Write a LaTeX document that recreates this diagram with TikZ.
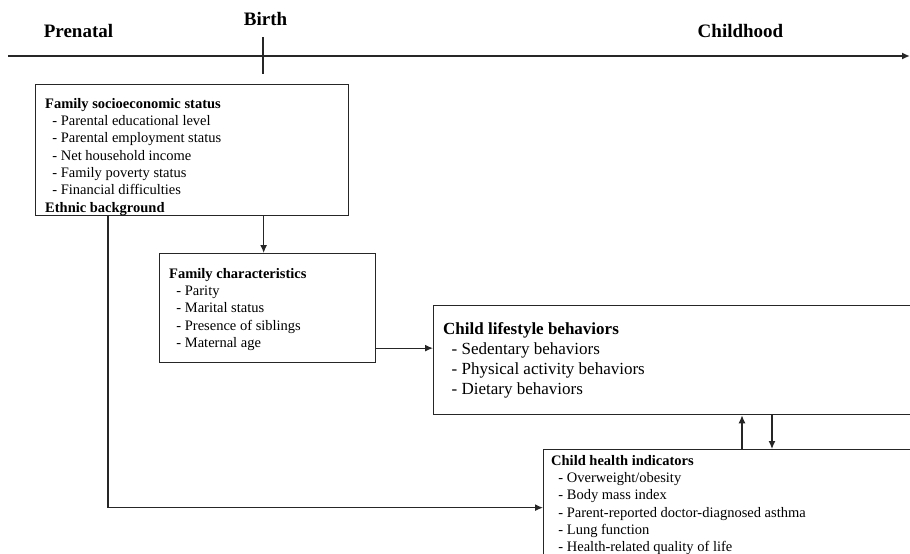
\documentclass[tikz,border=0pt]{standalone}
\usepackage{fontspec}
\setmainfont{Liberation Serif}
\usetikzlibrary{positioning,arrows.meta}
\newcommand{\itm}[1]{\hspace*{0.5em}- #1}

\begin{document}
\begin{tikzpicture}[x=1pt, y=-1pt,
  box/.style={draw=black!85, line width=1.3pt, inner sep=0pt, anchor=north west},
  txt/.style={align=left, inner sep=0pt, anchor=north west,
              font=\fontsize{14.5}{17.3}\selectfont},
  bigtxt/.style={txt, font=\fontsize{17}{20}\selectfont},
  era/.style={font=\fontsize{19}{22}\selectfont\bfseries, inner sep=0pt},
  arr/.style={-{Latex[length=8pt,width=7pt]}, draw=black!85, line width=1.3pt}]
\useasboundingbox (0,0) rectangle (910,554);
\clip (0,0) rectangle (910,554);
% time axis
\coordinate (t0) at (8,56);
\coordinate (t1) at (910,56);
\draw[arr, line width=1.6pt] (t0) -- (t1);
\coordinate (b0) at (263,37);
\coordinate (b1) at (263,74);
\draw[draw=black!85, line width=1.3pt] (b0) -- (b1);
\node[era] (pre) at (78.5,31.5) {Prenatal};
\node[era] (birth) at (265.5,19.5) {Birth};
\node[era] (child) at (740.5,31.5) {Childhood};
% boxes
\node[box, minimum width=313pt, minimum height=131pt] (ses) at (35,84) {};
\node[txt] (ses-t) at ([shift={(10pt,-14pt)}]ses.north west)
  {\textbf{Family socioeconomic status}\\ \itm{Parental educational level}\\
   \itm{Parental employment status}\\ \itm{Net household income}\\
   \itm{Family poverty status}\\ \itm{Financial difficulties}\\
   \textbf{Ethnic background}};
\node[box, minimum width=216pt, minimum height=109pt] (fam) at (159,253) {};
\node[txt] (fam-t) at ([shift={(10pt,-15pt)}]fam.north west)
  {\textbf{Family characteristics}\\ \itm{Parity}\\ \itm{Marital status}\\
   \itm{Presence of siblings}\\ \itm{Maternal age}};
\node[box, minimum width=520pt, minimum height=109pt] (life) at (433,305) {};
\node[bigtxt] (life-t) at ([shift={(10pt,-17pt)}]life.north west)
  {\textbf{Child lifestyle behaviors}\\ \itm{Sedentary behaviors}\\
   \itm{Physical activity behaviors}\\ \itm{Dietary behaviors}};
\node[box, minimum width=420pt, minimum height=116pt] (health) at (543,449) {};
\node[txt] (health-t) at ([shift={(8pt,-6pt)}]health.north west)
  {\textbf{Child health indicators}\\ \itm{Overweight/obesity}\\ \itm{Body mass index}\\
   \itm{Parent-reported doctor-diagnosed asthma}\\ \itm{Lung function}\\
   \itm{Health-related quality of life}};
% links
\draw[arr] ([xshift=-4pt]fam.north |- ses.south) -- ([xshift=-4pt]fam.north);
\draw[arr] ([yshift=-40pt]fam.east) -- ([yshift=-40pt]fam.east -| life.west);
\draw[arr] ([xshift=73pt]ses.south west) |- (health.west);
\draw[arr] ([xshift=199pt]health.north west) -- ([xshift=199pt]health.north west |- life.south);
\draw[arr] ([xshift=229pt]health.north west |- life.south) -- ([xshift=229pt]health.north west);
\end{tikzpicture}
\end{document}
